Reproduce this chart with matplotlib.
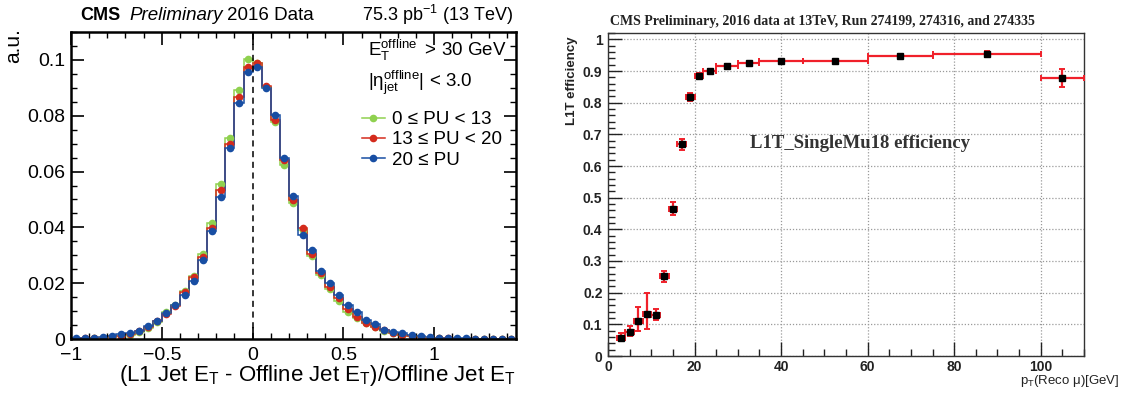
import numpy as np
import matplotlib
matplotlib.use("Agg")
import matplotlib.pyplot as plt
from matplotlib.lines import Line2D
from matplotlib.ticker import MultipleLocator, FuncFormatter

plt.rcParams['font.family'] = ['Liberation Sans', 'DejaVu Sans']
plt.rcParams['mathtext.fontset'] = 'custom'
plt.rcParams['mathtext.rm'] = 'Liberation Sans'
plt.rcParams['mathtext.it'] = 'Liberation Sans:italic'
plt.rcParams['mathtext.bf'] = 'Liberation Sans:bold'

# ---------------- Left panel data ----------------
bin_edges = np.round(np.arange(-1.0, 1.4501, 0.05), 3)
pu_labels = ['0 ≤ PU < 13', '13 ≤ PU < 20', '20 ≤ PU']
pu_low = [0.0001, 0.0001, 0.0002, 0.0003, 0.0006, 0.0010, 0.0016, 0.0026, 0.0040, 0.0062,
          0.0095, 0.0122, 0.0173, 0.0227, 0.0304, 0.0414, 0.0556, 0.0721, 0.0893, 0.1003,
          0.0988, 0.0903, 0.0779, 0.0625, 0.0489, 0.0392, 0.0296, 0.0230, 0.0178, 0.0135,
          0.0098, 0.0076, 0.0056, 0.0043, 0.0029, 0.0021, 0.0015, 0.0010, 0.0006, 0.0004,
          0.0002, 0.0001, 0.0001, 0.0001, 0.0, 0.0, 0.0, 0.0, 0.0]
pu_mid = [0.0001, 0.0002, 0.0003, 0.0005, 0.0008, 0.0012, 0.0019, 0.0029, 0.0044, 0.0064,
          0.0089, 0.0118, 0.0168, 0.0221, 0.0293, 0.0396, 0.0533, 0.0697, 0.0866, 0.0976,
          0.0990, 0.0905, 0.0786, 0.0641, 0.0497, 0.0396, 0.0305, 0.0237, 0.0185, 0.0146,
          0.0107, 0.0080, 0.0059, 0.0042, 0.0031, 0.0022, 0.0016, 0.0011, 0.0007, 0.0004,
          0.0003, 0.0002, 0.0001, 0.0001, 0.0001, 0.0, 0.0, 0.0, 0.0]
pu_high = [0.0002, 0.0003, 0.0005, 0.0007, 0.0012, 0.0017, 0.0021, 0.0030, 0.0045, 0.0065,
           0.0092, 0.0123, 0.0156, 0.0208, 0.0284, 0.0388, 0.0509, 0.0683, 0.0845, 0.0956,
           0.0973, 0.0898, 0.0802, 0.0649, 0.0511, 0.0374, 0.0320, 0.0243, 0.0199, 0.0159,
           0.0121, 0.0095, 0.0069, 0.0053, 0.0034, 0.0026, 0.0020, 0.0014, 0.0009, 0.0006,
           0.0004, 0.0003, 0.0002, 0.0002, 0.0001, 0.0001, 0.0001, 0.0, 0.0]
pu_colors = ['#8fd14f', '#d42b1c', '#184ea3']

# ---------------- Right panel data ----------------
pt_lo = [2, 4, 6, 8, 10, 12, 14, 16, 18, 20, 22, 25, 30, 35, 45, 60, 75, 100]
pt_hi = [4, 6, 8, 10, 12, 14, 16, 18, 20, 22, 25, 30, 35, 45, 60, 75, 100, 110]
pt_center = [3, 5, 7, 9, 11, 13, 15, 17, 19, 21, 23.5, 27.5, 32.5, 40, 52.5, 67.5, 87.5, 105]
eff = [0.058, 0.077, 0.112, 0.134, 0.131, 0.252, 0.464, 0.670, 0.818, 0.885,
       0.901, 0.917, 0.925, 0.932, 0.932, 0.948, 0.955, 0.879]
eff_err_lo = [0.012, 0.014, 0.033, 0.050, 0.016, 0.018, 0.018, 0.018, 0.014, 0.011,
              0.005, 0.004, 0.004, 0.004, 0.004, 0.008, 0.011, 0.030]
eff_err_hi = [0.016, 0.018, 0.042, 0.064, 0.016, 0.018, 0.022, 0.016, 0.012, 0.010,
              0.005, 0.004, 0.004, 0.003, 0.003, 0.007, 0.009, 0.028]

W, H = 1128, 394
fig = plt.figure(figsize=(W / 100, H / 100), dpi=100)


def fx(px):
    return px / W


def fy(py):
    return 1 - py / H


# ================= Left panel =================
ax1 = fig.add_axes([fx(71), fy(339), (516 - 71) / W, (339 - 32) / H])
centers = 0.5 * (bin_edges[:-1] + bin_edges[1:])
for vals, col in zip([pu_low, pu_mid, pu_high], pu_colors):
    ax1.stairs(vals, bin_edges, color=col, linewidth=1.1)
    ax1.plot(centers, vals, 'o', color=col, markersize=5.5, markeredgewidth=0)

ax1.axvline(0, color='black', linestyle=(0, (4, 3)), linewidth=1.1)
ax1.set_xlim(-1, 1.45)
ax1.set_ylim(0, 0.11)
ax1.xaxis.set_major_locator(MultipleLocator(0.5))
ax1.xaxis.set_minor_locator(MultipleLocator(0.1))
ax1.yaxis.set_major_locator(MultipleLocator(0.02))
ax1.yaxis.set_minor_locator(MultipleLocator(0.005))
fmt = FuncFormatter(lambda v, p: ('%g' % round(v, 6)).replace('-', '\u2212'))
ax1.xaxis.set_major_formatter(fmt)
ax1.yaxis.set_major_formatter(fmt)
ax1.tick_params(which='both', direction='in', top=True, right=True, labelsize=14)
ax1.tick_params(which='major', length=9, width=1.2)
ax1.tick_params(which='minor', length=4.5, width=1.0)
ax1.tick_params(axis='x', pad=6)
ax1.tick_params(axis='y', pad=4)
for s in ax1.spines.values():
    s.set_linewidth(1.8)

handles = [Line2D([], [], color=c, marker='o', markersize=5.5, markeredgewidth=0, linewidth=1.1)
           for c in pu_colors]
leg = ax1.legend(handles, pu_labels, loc='upper left', bbox_to_anchor=(fx(362), fy(111)),
                 bbox_transform=fig.transFigure, frameon=False, fontsize=13.5,
                 handlelength=1.2, handletextpad=0.4, labelspacing=0.17, borderpad=0,
                 borderaxespad=0)

fig.text(fx(368), fy(50), r'E$_\mathrm{T}^\mathrm{offline}\;\;$> 30 GeV', fontsize=13.5,
         ha='left', va='center')
fig.text(fx(368), fy(83), r'|η$_\mathrm{jet}^\mathrm{offline}$| < 3.0', fontsize=13.5,
         ha='left', va='center')

fig.text(fx(80), fy(15), 'CMS', fontsize=13, fontweight='bold', ha='left', va='center')
fig.text(fx(129), fy(15), 'Preliminary', fontsize=13.5, fontstyle='italic', ha='left', va='center')
fig.text(fx(227), fy(15), '2016 Data', fontsize=13.5, ha='left', va='center')
fig.text(fx(513), fy(15), r'75.3 pb$^{-1}$ (13 TeV)', fontsize=13, ha='right', va='center')
fig.text(fx(14), fy(28), 'a.u.', fontsize=15, rotation=90, ha='center', va='top')
fig.text(fx(516), fy(375), r'(L1 Jet E$_\mathrm{T}$ - Offline Jet E$_\mathrm{T}$)/Offline Jet E$_\mathrm{T}$',
         fontsize=16, ha='right', va='center')

# ================= Right panel =================
ax2 = fig.add_axes([fx(608), fy(356), (1084 - 608) / W, (356 - 33) / H])
pc = np.array(pt_center, dtype=float)
xerr = [pc - np.array(pt_lo), np.array(pt_hi) - pc]
ax2.errorbar(pc, eff, xerr=xerr, yerr=[eff_err_lo, eff_err_hi], fmt='none',
             ecolor='#f0202a', elinewidth=1.6, capsize=2, capthick=1.4, zorder=3)
ax2.plot(pc, eff, 's', color='black', markersize=5, zorder=4)
ax2.set_xlim(0, 110)
ax2.set_ylim(0, 1.02)
ax2.xaxis.set_major_locator(MultipleLocator(20))
ax2.xaxis.set_minor_locator(MultipleLocator(5))
ax2.yaxis.set_major_locator(MultipleLocator(0.1))
ax2.yaxis.set_minor_locator(MultipleLocator(0.02))
ax2.xaxis.set_major_formatter(FuncFormatter(lambda v, p: '%g' % round(v, 6)))
ax2.yaxis.set_major_formatter(FuncFormatter(lambda v, p: '%g' % round(v, 6)))
ax2.grid(True, which='major', color='#9a9a9a', linestyle=(0, (1, 1.5)), linewidth=0.9)
ax2.tick_params(which='both', direction='in', top=False, right=False, labelsize=10,
                colors='#222222')
ax2.tick_params(which='major', length=10, width=1.0)
ax2.tick_params(which='minor', length=5, width=1.0)
ax2.tick_params(axis='x', pad=3)
ax2.tick_params(axis='y', pad=4)
for lab in ax2.get_xticklabels() + ax2.get_yticklabels():
    lab.set_fontweight('bold')
for s in ax2.spines.values():
    s.set_linewidth(1.0)
    s.set_color('#333333')

ax2.text(32.8, 0.672, 'L1T_SingleMu18 efficiency', family='Liberation Serif',
         fontweight='bold', fontsize=13.5, color='#333333', ha='left', va='center')
fig.text(fx(822), fy(22), 'CMS Preliminary, 2016 data at 13TeV, Run 274199, 274316, and 274335',
         family='Liberation Serif', fontweight='bold', fontsize=10, color='#222222',
         ha='center', va='center')
fig.text(fx(572), fy(36), 'L1T efficiency', fontsize=9.5, fontweight='bold', rotation=90,
         ha='center', va='top', color='#222222')
fig.text(fx(1120), fy(381), r'p$_\mathrm{T}$(Reco μ)[GeV]', fontsize=9.5, ha='right',
         va='center', color='#222222')

fig.savefig('out.png', dpi=100)
